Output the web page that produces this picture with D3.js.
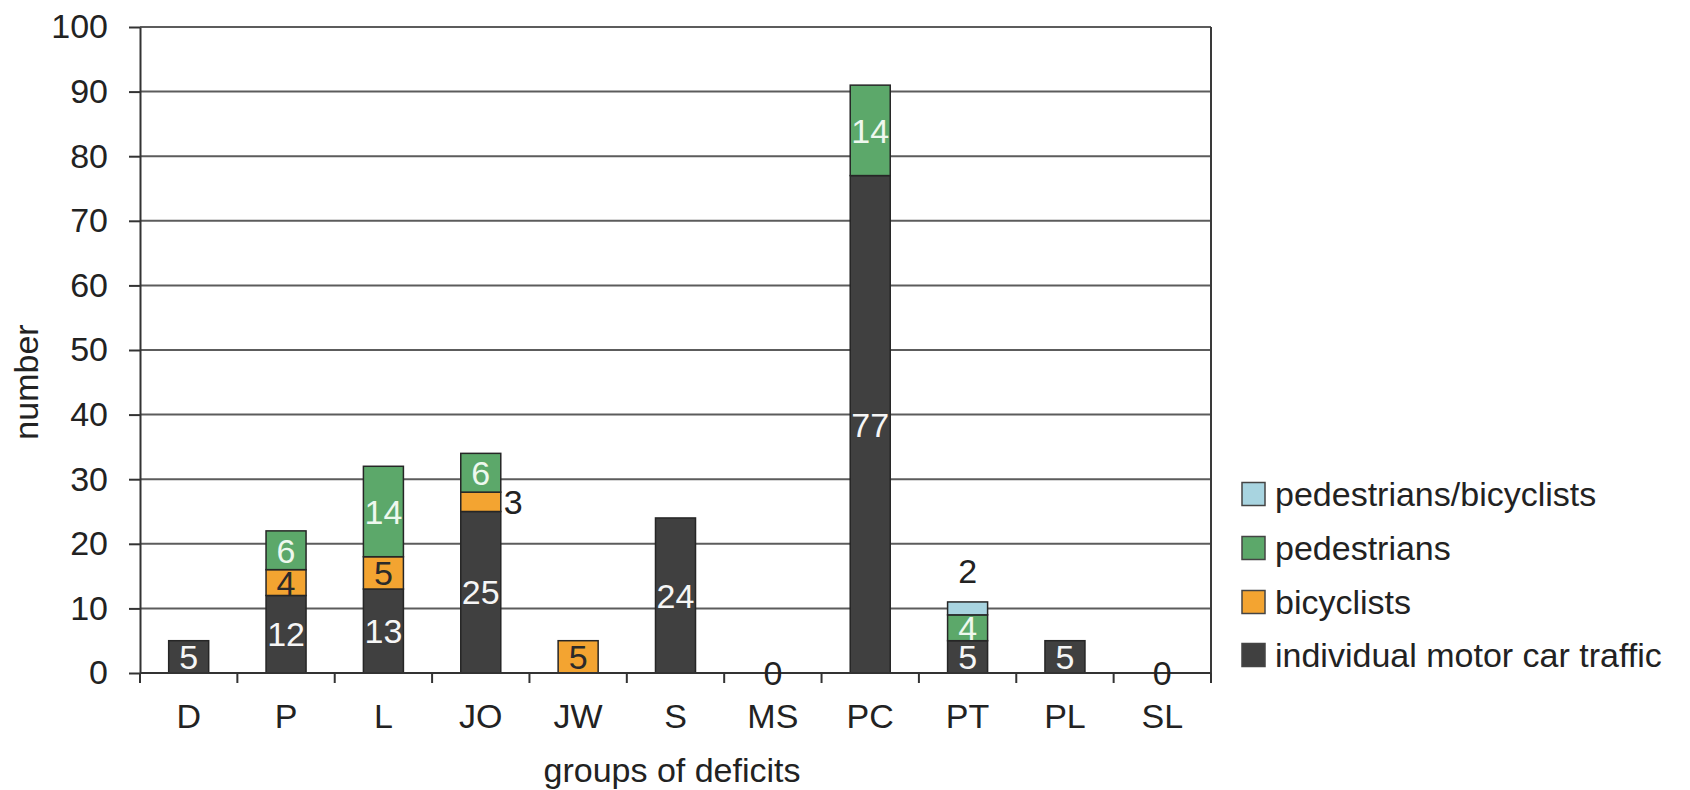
<!DOCTYPE html>
<html>
<head>
<meta charset="utf-8">
<script src="https://cdn.jsdelivr.net/npm/d3@7/dist/d3.min.js"></script>
<style>
  html, body { margin: 0; padding: 0; background: #fff; }
  svg { display: block; }
  text { font-family: "Liberation Sans", Arial, sans-serif; }
</style>
</head>
<body>
<svg id="chart" width="1690" height="790"></svg>
<script>
// Deficit groups along the x axis
const categories = ["D", "P", "L", "JO", "JW", "S", "MS", "PC", "PT", "PL", "SL"];

// Counts per road-user group, one value per deficit group
const carTraffic   = [5, 12, 13, 25, 0, 24, 0, 77, 5, 5, 0];
const bicyclists   = [0, 4, 5, 3, 5, 0, 0, 0, 0, 0, 0];
const pedestrians  = [0, 6, 14, 6, 0, 0, 0, 14, 4, 0, 0];
const pedBicycle   = [0, 0, 0, 0, 0, 0, 0, 0, 2, 0, 0];

const yTicks = [0, 10, 20, 30, 40, 50, 60, 70, 80, 90, 100];

const seriesKeys = ["car", "bic", "ped", "pb"];
const seriesNames = {
  pb: "pedestrians/bicyclists",
  ped: "pedestrians",
  bic: "bicyclists",
  car: "individual motor car traffic"
};
const colors = { car: "#404040", bic: "#f3a431", ped: "#5ca86a", pb: "#a8d4e0" };
const labelColors = { car: "#f6f6f6", bic: "#2a2a2a", ped: "#eef8ee", pb: "#2a2a2a" };

const rows = categories.map((c, i) => ({
  cat: c, car: carTraffic[i], bic: bicyclists[i], ped: pedestrians[i], pb: pedBicycle[i]
}));

const svg = d3.select("#chart");
const plotLeft = 140, plotRight = 1211, plotTop = 27, plotBottom = 673;
const fontSize = 34;

const x = d3.scaleBand().domain(categories).range([plotLeft, plotRight])
  .paddingInner(0.589).paddingOuter(0.2945);
const y = d3.scaleLinear().domain([0, 100]).range([plotBottom, plotTop]);

const step = x.step();
const boundaries = categories.map(c => x(c) + x.bandwidth() / 2 - step / 2).concat([plotRight]);

// horizontal gridlines
svg.append("g").selectAll("line").data(yTicks.slice(1)).join("line")
  .attr("x1", plotLeft).attr("x2", plotRight)
  .attr("y1", d => y(d)).attr("y2", d => y(d))
  .attr("stroke", "#5c5c5c").attr("stroke-width", 2);

// right frame line
svg.append("line")
  .attr("x1", plotRight).attr("x2", plotRight).attr("y1", y(100)).attr("y2", plotBottom + 10)
  .attr("stroke", "#3a3a3a").attr("stroke-width", 2);

// stacked bars
const stacked = d3.stack().keys(seriesKeys)(rows);
const barG = svg.append("g");
stacked.forEach(s => {
  barG.append("g").selectAll("rect")
    .data(s.filter(d => d[1] - d[0] > 0)).join("rect")
    .attr("x", d => x(d.data.cat))
    .attr("width", x.bandwidth())
    .attr("y", d => y(d[1]))
    .attr("height", d => y(d[0]) - y(d[1]))
    .attr("fill", colors[s.key])
    .attr("stroke", "#262626").attr("stroke-width", 1.5);
});

// y axis
const yAxis = svg.append("g").attr("transform", `translate(${plotLeft},0)`)
  .call(d3.axisLeft(y).tickValues(yTicks).tickSize(11).tickPadding(21).tickSizeOuter(0));
yAxis.select(".domain").attr("stroke", "#333").attr("stroke-width", 2);
yAxis.selectAll(".tick line").attr("stroke", "#333").attr("stroke-width", 2);
yAxis.selectAll(".tick text").attr("font-size", fontSize).attr("fill", "#222")
  .attr("font-family", "Liberation Sans, Arial, sans-serif");

// x axis: baseline, boundary ticks and category labels
svg.append("line").attr("x1", plotLeft).attr("x2", plotRight).attr("y1", plotBottom).attr("y2", plotBottom)
  .attr("stroke", "#333").attr("stroke-width", 2);
svg.append("g").selectAll("line").data(boundaries).join("line")
  .attr("x1", d => d).attr("x2", d => d).attr("y1", plotBottom).attr("y2", plotBottom + 10)
  .attr("stroke", "#333").attr("stroke-width", 2);
const xAxis = svg.append("g").attr("transform", `translate(0,${plotBottom})`)
  .call(d3.axisBottom(x).tickSize(0).tickPadding(31));
xAxis.select(".domain").remove();
xAxis.selectAll(".tick text").attr("font-size", fontSize).attr("fill", "#222")
  .attr("font-family", "Liberation Sans, Arial, sans-serif");

// value labels
const labelG = svg.append("g").attr("font-size", fontSize);
stacked.forEach(s => {
  s.forEach(d => {
    const v = d[1] - d[0];
    if (v <= 0) return;
    const cx = x(d.data.cat) + x.bandwidth() / 2;
    const cy = y((d[0] + d[1]) / 2);
    const t = labelG.append("text").text(v).attr("dy", "0.36em");
    if (d.data.cat === "JO" && s.key === "bic") {
      t.attr("x", x(d.data.cat) + x.bandwidth() + 3).attr("y", cy)
        .attr("text-anchor", "start").attr("fill", "#222");
    } else if (s.key === "pb") {
      t.attr("x", cx).attr("y", y(d[1]) - 31)
        .attr("text-anchor", "middle").attr("fill", "#222");
    } else {
      t.attr("x", cx).attr("y", cy).attr("text-anchor", "middle")
        .attr("fill", labelColors[s.key]);
    }
  });
});
// zero totals
rows.forEach(r => {
  const total = seriesKeys.reduce((a, k) => a + r[k], 0);
  if (total === 0) {
    labelG.append("text").text(total)
      .attr("x", x(r.cat) + x.bandwidth() / 2).attr("y", y(0)).attr("dy", "0.36em")
      .attr("text-anchor", "middle").attr("fill", "#222");
  }
});

// axis titles
svg.append("text").text("groups of deficits")
  .attr("x", 672).attr("y", 782).attr("text-anchor", "middle")
  .attr("font-size", fontSize).attr("fill", "#222");
svg.append("text").text("number")
  .attr("transform", "translate(38,382) rotate(-90)")
  .attr("text-anchor", "middle").attr("font-size", fontSize).attr("fill", "#222");

// legend
const legendKeys = ["pb", "ped", "bic", "car"];
const legendY = [494, 548, 602, 655];
const lg = svg.append("g");
legendKeys.forEach((k, i) => {
  lg.append("rect").attr("x", 1242).attr("y", legendY[i] - 11.5)
    .attr("width", 23).attr("height", 23)
    .attr("fill", colors[k]).attr("stroke", "#444").attr("stroke-width", 1.5);
  lg.append("text").text(seriesNames[k])
    .attr("x", 1275).attr("y", legendY[i]).attr("dy", "0.36em")
    .attr("font-size", fontSize).attr("fill", "#222");
});
</script>
</body>
</html>
